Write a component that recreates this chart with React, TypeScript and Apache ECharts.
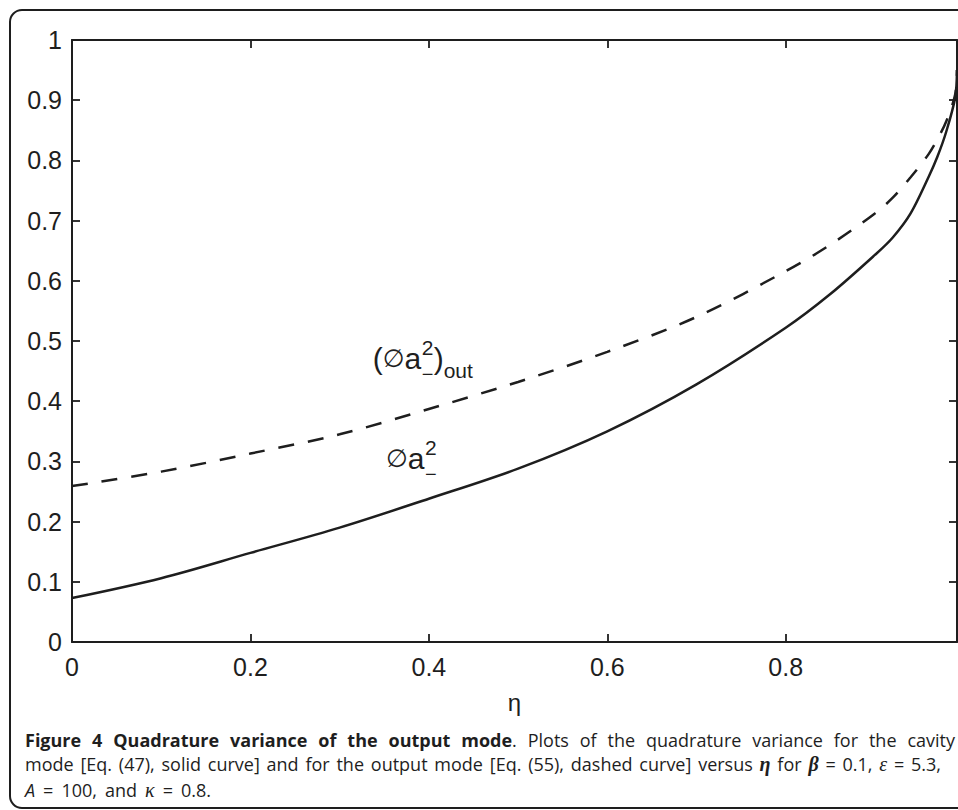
import React, { useEffect, useRef } from 'react';
import * as echarts from 'echarts';

// η values where both variances were sampled
const etaGrid = [0, 0.1, 0.2, 0.3, 0.4, 0.5, 0.6, 0.7, 0.8, 0.85, 0.9, 0.92, 0.94, 0.96, 0.97, 0.98, 0.99, 0.992];
// cavity mode quadrature variance (solid curve)
const cavityVariance = [0.073, 0.106, 0.148, 0.19, 0.238, 0.288, 0.35, 0.428, 0.522, 0.578, 0.643, 0.672, 0.712, 0.772, 0.806, 0.848, 0.905, 0.95];
// output mode quadrature variance (dashed curve)
const outputVariance = [0.259, 0.283, 0.313, 0.345, 0.387, 0.432, 0.482, 0.54, 0.616, 0.66, 0.712, 0.738, 0.772, 0.81, 0.835, 0.865, 0.91, 0.95];

const xTickStep = 0.2;
const yTickStep = 0.1;
const xMax = 0.992;

const INK = '#1e1e1e';
const AXIS_FONT = '"Liberation Sans", Arial, Helvetica, sans-serif';

// caption text
const captionBold = 'Figure 4 Quadrature variance of the output mode';
const captionRest1 = 'Plots of the quadrature variance for the cavity';
const captionLine2Plain = 'mode [Eq. (47), solid curve] and for the output mode [Eq. (55), dashed curve] versus';

type StyleKey = 'n' | 'b' | 'i' | 'm' | 'g';
type Seg = [string, StyleKey];
type Word = Seg[];

const CAPTION_FONTS: Record<StyleKey, { fontFamily: string; fontWeight: string; fontStyle: string; fontSize: number; k: number }> = {
  n: { fontFamily: '"Open Sans"', fontWeight: 'normal', fontStyle: 'normal', fontSize: 18, k: 0.388 },
  b: { fontFamily: '"Open Sans"', fontWeight: 'bold', fontStyle: 'normal', fontSize: 18, k: 0.388 },
  i: { fontFamily: '"Open Sans"', fontWeight: 'normal', fontStyle: 'italic', fontSize: 18, k: 0.388 },
  m: { fontFamily: '"Liberation Serif"', fontWeight: 'bold', fontStyle: 'italic', fontSize: 20, k: 0.34 },
  g: { fontFamily: '"Liberation Serif"', fontWeight: 'normal', fontStyle: 'italic', fontSize: 20, k: 0.34 },
};

const plain = (s: string): Word[] => s.split(' ').map((t) => [[t, 'n'] as Seg]);

const line1: Word[] = [
  ...captionBold.split(' ').map((t) => [[t, 'b'] as Seg]),
  ...plain(captionRest1),
];
// the period right after the bold title
line1[captionBold.split(' ').length - 1].push(['.', 'n']);

const line2: Word[] = [
  ...plain(captionLine2Plain),
  [['η', 'm']],
  [['for', 'n']],
  [['β', 'm']],
  [['=', 'n']],
  [['0.1,', 'n']],
  [['ε', 'g']],
  [['=', 'n']],
  [['5.3,', 'n']],
];

const line3: Word[] = [
  [['A', 'i']],
  [['=', 'n']],
  [['100,', 'n']],
  [['and', 'n']],
  [['κ', 'g']],
  [['=', 'n']],
  [['0.8.', 'n']],
];

let measureCtx: CanvasRenderingContext2D | null = null;
function measure(text: string, key: StyleKey): number {
  if (!measureCtx) measureCtx = document.createElement('canvas').getContext('2d');
  const f = CAPTION_FONTS[key];
  measureCtx!.font = `${f.fontStyle} ${f.fontWeight} ${f.fontSize}px ${f.fontFamily}`;
  return measureCtx!.measureText(text).width;
}

// spreads the words of one caption line between left and right
function layoutLine(words: Word[], left: number, right: number, baseline: number) {
  const total = words.reduce((s, w) => s + w.reduce((a, [t, k]) => a + measure(t, k), 0), 0);
  const gap = (right - left - total) / (words.length - 1);
  const out: any[] = [];
  let x = left;
  words.forEach((w) => {
    w.forEach(([t, k]) => {
      const f = CAPTION_FONTS[k];
      out.push({
        type: 'text',
        silent: true,
        x,
        y: baseline - f.k * f.fontSize,
        style: {
          text: t,
          fill: INK,
          fontFamily: f.fontFamily,
          fontWeight: f.fontWeight,
          fontStyle: f.fontStyle,
          fontSize: f.fontSize,
          align: 'left',
          verticalAlign: 'middle',
        },
      });
      x += measure(t, k);
    });
    x += gap;
  });
  return out;
}

// annotation pieces: [text, dx, dy from baseline, size]
type Piece = [string, number, number, number];
const SANS = '"Liberation Sans", Arial, sans-serif';
const SYM = '"DejaVu Sans", sans-serif';
const coreRich = {
  m: { fontFamily: SANS, fontSize: 30, fill: INK },
  s: { fontFamily: SYM, fontSize: 25, fill: INK },
};
const outputCore = '{m|(}{s|∅}{m|a}';
const outputPieces: Piece[] = [
  ['2', 49, -14, 21],
  ['−', 49, 12, 20],
  [')', 61, 0, 30],
  ['out', 71, 9, 21],
];
const cavityCore = '{s|∅}{m|a}';
const cavityPieces: Piece[] = [
  ['2', 39, -14, 21],
  ['−', 39, 12, 20],
];
const outputLabelAt = [0.337, 0.454];
const cavityLabelAt = [0.352, 0.288];

function annotation(chart: echarts.ECharts, core: string, pieces: Piece[], at: number[]) {
  const [px, py] = chart.convertToPixel({ gridIndex: 0 }, at) as number[];
  const out: any[] = [
    {
      type: 'text',
      silent: true,
      x: px,
      y: py - 0.347 * 30,
      style: { text: core, rich: coreRich, fill: INK, align: 'left', verticalAlign: 'middle' },
    },
  ];
  pieces.forEach(([text, dx, dy, size]) => {
    out.push({
      type: 'text',
      silent: true,
      x: px + dx,
      y: py + dy - 0.347 * size,
      style: { text, fill: INK, fontFamily: SANS, fontSize: size, align: 'left', verticalAlign: 'middle' },
    });
  });
  return out;
}

const isTick = (v: number, step: number) => Math.abs(v / step - Math.round(v / step)) < 1e-6;

// box axes stay on their own side and carry inward ticks
const makeAxisLine = () => ({ show: true, onZero: false, lineStyle: { color: INK, width: 2 } });
const makeAxisTick = () => ({ show: true, inside: true, length: 8, lineStyle: { color: INK, width: 1.8 } });

export default function App() {
  const ref = useRef<HTMLDivElement>(null);

  useEffect(() => {
    if (!ref.current) return;
    const chart = echarts.init(ref.current, null, { renderer: 'svg' });

    chart.setOption({
      animation: false,
      backgroundColor: '#ffffff',
      grid: { left: 72, top: 40, width: 885, height: 602, outerBoundsMode: 'none', containLabel: false },
      xAxis: [
        {
          type: 'value',
          position: 'bottom',
          min: 0,
          max: xMax,
          interval: xTickStep,
          axisLine: makeAxisLine(),
          axisTick: makeAxisTick(),
          splitLine: { show: false },
          axisLabel: {
            color: INK,
            fontSize: 25,
            fontFamily: AXIS_FONT,
            margin: 12,
            formatter: (v: number) => (isTick(v, xTickStep) ? String(+v.toFixed(1)) : ''),
          },
          name: 'η',
          nameLocation: 'middle',
          nameGap: 48,
          nameTextStyle: { color: INK, fontSize: 24, fontFamily: AXIS_FONT },
        },
        {
          type: 'value',
          position: 'top',
          min: 0,
          max: xMax,
          interval: xTickStep,
          axisLine: makeAxisLine(),
          axisTick: makeAxisTick(),
          splitLine: { show: false },
          axisLabel: { show: false },
        },
      ],
      yAxis: [
        {
          type: 'value',
          position: 'left',
          min: 0,
          max: 1,
          interval: yTickStep,
          axisLine: makeAxisLine(),
          axisTick: makeAxisTick(),
          splitLine: { show: false },
          axisLabel: { color: INK, fontSize: 25, fontFamily: AXIS_FONT, margin: 10 },
        },
        {
          type: 'value',
          position: 'right',
          min: 0,
          max: 1,
          interval: yTickStep,
          axisLine: makeAxisLine(),
          axisTick: makeAxisTick(),
          splitLine: { show: false },
          axisLabel: { show: false },
        },
      ],
      series: [
        {
          name: 'cavity',
          type: 'line',
          xAxisIndex: 0,
          yAxisIndex: 0,
          data: etaGrid.map((x, i) => [x, cavityVariance[i]]),
          showSymbol: false,
          smooth: 0.33,
          lineStyle: { color: INK, width: 2.5 },
          silent: true,
        },
        {
          name: 'output',
          type: 'line',
          xAxisIndex: 0,
          yAxisIndex: 0,
          data: etaGrid.map((x, i) => [x, outputVariance[i]]),
          showSymbol: false,
          smooth: 0.33,
          lineStyle: { color: INK, width: 2.5, type: [16, 14] },
          silent: true,
        },
      ],
    });

    const graphics: any[] = [
      {
        type: 'rect',
        silent: true,
        z: -1,
        shape: { x: 10, y: 10, width: 1000, height: 798, r: 12 },
        style: { fill: 'none', stroke: INK, lineWidth: 2 },
      },
      ...layoutLine(line1, 25, 955, 747),
      ...layoutLine(line2, 25, 941, 771),
      ...layoutLine(line3, 25, 211, 797),
      ...annotation(chart, outputCore, outputPieces, outputLabelAt),
      ...annotation(chart, cavityCore, cavityPieces, cavityLabelAt),
    ];
    chart.setOption({ graphic: graphics });

    return () => chart.dispose();
  }, []);

  return (
    <div
      ref={ref}
      style={{ position: 'fixed', left: 0, top: 0, width: 958, height: 810, background: '#fff' }}
    />
  );
}
